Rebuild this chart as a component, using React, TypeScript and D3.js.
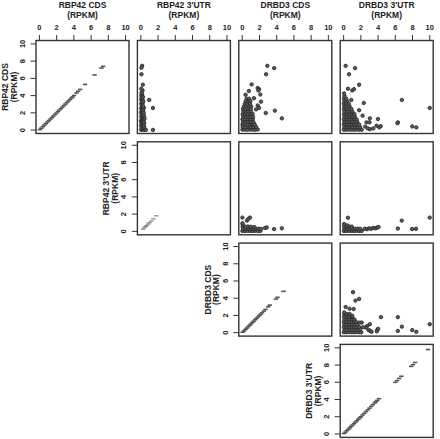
import React from 'react';
import * as d3 from 'd3';

// variable names, in panel order
const labels = ["RBP42 CDS", "RBP42 3'UTR", "DRBD3 CDS", "DRBD3 3'UTR"];
const unitLabel = '(RPKM)';
const tickValues = [0, 2, 4, 6, 8, 10];

// diagonal panels: each variable against itself
const rbpCdsDiag = [0.05, 0.22, 0.4, 0.57, 0.75, 0.93, 1.1, 1.28, 1.45, 1.62, 1.8, 1.98, 2.15, 2.32, 2.5, 2.67, 2.85, 3.02, 3.2, 3.37, 3.55, 3.72, 3.85, 4.02, 4.3, 4.5, 4.72, 5.3, 6.4, 7.2, 7.4];
const rbpUtrDiag = [0.25, 0.4, 0.55, 0.7, 0.85, 1.0, 1.2, 1.45, 1.8];
const drbdCdsDiag = [0.05, 0.2, 0.36, 0.52, 0.68, 0.85, 1.0, 1.17, 1.33, 1.5, 1.66, 1.82, 1.98, 2.14, 2.3, 2.5, 2.7, 3.0, 3.2, 3.9, 4.1, 4.8];
const drbdUtrDiag = [0.05, 0.21, 0.38, 0.55, 0.71, 0.88, 1.04, 1.2, 1.37, 1.53, 1.7, 1.86, 2.0, 2.2, 2.4, 2.6, 2.8, 3.0, 3.2, 3.4, 3.6, 3.75, 3.9, 4.1, 6.0, 6.2, 6.45, 6.7, 7.85, 8.05, 8.3, 9.8];

// off-diagonal panels: [x, y]
// x: RBP42 3'UTR, y: RBP42 CDS
const rbpUtrVsRbpCds = [
  [0.04, 0.04], [0.2, 0.06], [0.36, 0.03], [0.58, 0.02], [1.4, 0.02],
  [0.1, 0.31], [0.27, 0.28], [0.4, 0.35], [0.03, 0.52], [0.19, 0.6], [0.33, 0.55],
  [0.08, 0.83], [0.24, 0.86], [0.38, 0.8], [0.02, 1.06], [0.17, 1.1], [0.31, 1.04],
  [0.1, 1.29], [0.26, 1.33], [0.42, 1.3], [0.05, 1.57], [0.2, 1.6], [0.39, 1.55],
  [0.12, 1.78], [0.3, 1.82], [0.03, 2.04], [0.18, 2.08], [0.33, 2.02], [0.1, 2.33],
  [0.26, 2.3], [0.04, 2.51], [0.2, 2.57], [0.35, 2.55], [0.11, 2.82], [0.27, 2.78],
  [0.05, 3.07], [0.2, 3.1], [0.12, 3.28], [0.28, 3.33], [0.04, 3.56], [0.18, 3.6],
  [0.1, 3.81], [0.24, 3.85], [0.05, 4.02], [0.15, 4.2], [0.08, 4.34], [0.2, 4.6],
  [0.05, 4.8], [0.23, 5.27], [0.15, 7.46], [0.07, 7.23], [0.07, 6.48], [0.97, 3.5], [1.4, 2.57],
];
// x: DRBD3 CDS, y: RBP42 CDS
const drbdCdsVsRbpCds = [
  [0.02, 0.05], [0.3, 0.05], [0.6, 0.04], [0.9, 0.06], [1.2, 0.05], [1.5, 0.04], [1.8, 0.07],
  [0.05, 0.35], [0.35, 0.33], [0.65, 0.36], [0.95, 0.35], [1.25, 0.34], [1.6, 0.37],
  [0.02, 0.65], [0.3, 0.66], [0.6, 0.63], [0.9, 0.65], [1.2, 0.67], [1.45, 0.64],
  [0.08, 0.95], [0.38, 0.94], [0.68, 0.97], [0.98, 0.95], [1.3, 0.93],
  [0.03, 1.25], [0.33, 1.26], [0.63, 1.24], [0.93, 1.25], [1.22, 1.27],
  [0.1, 1.55], [0.4, 1.54], [0.7, 1.56], [1.0, 1.55], [1.25, 1.53],
  [0.05, 1.85], [0.35, 1.86], [0.65, 1.84], [0.95, 1.85], [1.2, 1.87],
  [0.12, 2.15], [0.42, 2.14], [0.72, 2.16], [1.02, 2.15], [1.6, 2.4],
  [0.08, 2.45], [0.38, 2.44], [0.68, 2.46], [0.98, 2.45],
  [0.2, 2.75], [0.5, 2.74], [0.8, 2.76], [1.05, 2.75],
  [0.3, 3.05], [0.6, 3.04], [0.9, 3.06], [0.4, 3.35], [0.7, 3.34], [0.95, 3.36],
  [0.5, 3.65], [0.8, 3.64],
  [2.92, 7.46], [3.71, 7.19], [2.77, 6.48], [1.09, 5.3], [0.77, 4.53], [0.39, 4.1],
  [1.79, 4.88], [1.95, 4.75], [2.1, 4.13], [1.87, 4.6], [2.18, 3.3], [1.36, 3.7],
  [1.8, 2.85], [1.95, 2.57], [2.73, 1.98], [3.79, 2.25], [4.6, 1.36],
];
// x: DRBD3 3'UTR, y: RBP42 CDS
const drbdUtrVsRbpCds = [
  [0.02, 0.05], [0.3, 0.04], [0.6, 0.06], [0.9, 0.05], [1.2, 0.04], [1.5, 0.06], [1.8, 0.05], [2.1, 0.04],
  [0.1, 0.35], [0.4, 0.34], [0.7, 0.36], [1.0, 0.35], [1.3, 0.33], [1.6, 0.36], [1.9, 0.35],
  [0.03, 0.65], [0.33, 0.66], [0.63, 0.64], [0.93, 0.65], [1.23, 0.66], [1.53, 0.64], [1.8, 0.65],
  [0.08, 0.95], [0.38, 0.94], [0.68, 0.96], [0.98, 0.95], [1.28, 0.94], [1.58, 0.96],
  [0.02, 1.25], [0.32, 1.26], [0.62, 1.24], [0.92, 1.25], [1.22, 1.26], [1.5, 1.24],
  [0.1, 1.55], [0.4, 1.54], [0.7, 1.56], [1.0, 1.55], [1.3, 1.54],
  [0.05, 1.85], [0.35, 1.86], [0.65, 1.84], [0.95, 1.85], [1.25, 1.86],
  [0.1, 2.15], [0.4, 2.14], [0.7, 2.16], [1.0, 2.15],
  [0.03, 2.45], [0.33, 2.44], [0.63, 2.46], [0.9, 2.45],
  [0.08, 2.75], [0.38, 2.74], [0.68, 2.76], [0.02, 3.05], [0.3, 3.04], [0.6, 3.06],
  [0.1, 3.35], [0.4, 3.34], [0.05, 3.65], [0.3, 3.64], [0.1, 3.95], [0.05, 4.25],
  [0.23, 7.46], [1.33, 7.19], [0.62, 6.48], [1.8, 5.27], [1.0, 4.6], [1.2, 4.75], [0.5, 4.8],
  [0.89, 3.5], [2.34, 3.15], [1.8, 2.3], [2.2, 1.67], [6.76, 3.5], [10.0, 2.57],
  [3.98, 1.28], [3.04, 1.36], [2.65, 0.89], [3.0, 0.9], [6.3, 0.89], [6.25, 0.8],
  [3.83, 0.5], [4.14, 0.31], [3.44, 0.19], [3.05, 0.1], [4.3, 0.45], [7.97, 0.42],
  [8.44, 0.31], [2.5, 0.4], [2.8, 0.2],
];
// x: DRBD3 CDS, y: RBP42 3'UTR
const drbdCdsVsRbpUtr = [
  [0.02, 0.05], [0.3, 0.04], [0.6, 0.06], [0.9, 0.05], [1.2, 0.04], [1.5, 0.06], [1.8, 0.05], [2.1, 0.04],
  [0.1, 0.3], [0.4, 0.29], [0.7, 0.31], [1.0, 0.3], [1.3, 0.29], [1.6, 0.31], [1.9, 0.3], [2.2, 0.28],
  [0.05, 0.55], [0.35, 0.54], [0.65, 0.56], [1.0, 0.53], [1.4, 0.5], [0.05, 0.8],
  [0.02, 1.6], [0.55, 1.25], [0.9, 1.6], [0.7, 1.45], [0.03, 0.95],
  [2.65, 0.4], [2.85, 0.45], [3.7, 0.27], [4.6, 0.35],
];
// x: DRBD3 3'UTR, y: RBP42 3'UTR
const drbdUtrVsRbpUtr = [
  [0.02, 0.05], [0.3, 0.04], [0.6, 0.06], [0.9, 0.05], [1.2, 0.04], [1.5, 0.06], [1.8, 0.05], [2.1, 0.04],
  [0.1, 0.3], [0.4, 0.29], [0.7, 0.31], [1.0, 0.3], [1.3, 0.29], [1.6, 0.31], [1.9, 0.3],
  [0.05, 0.55], [0.35, 0.54], [0.65, 0.56], [0.95, 0.55], [0.05, 0.85], [0.4, 0.7],
  [2.45, 0.3], [2.7, 0.25], [2.95, 0.35], [3.2, 0.3], [3.45, 0.4], [3.7, 0.35], [3.9, 0.45], [4.05, 0.5],
  [0.5, 1.58], [6.75, 1.25], [6.3, 0.33], [7.95, 0.27], [8.4, 0.3], [10.0, 1.6],
];
// x: DRBD3 3'UTR, y: DRBD3 CDS
const drbdUtrVsDrbdCds = [
  [0.02, 0.05], [0.3, 0.04], [0.6, 0.06], [0.9, 0.05], [1.2, 0.04], [1.5, 0.06], [1.8, 0.05], [2.05, 0.04],
  [0.1, 0.35], [0.4, 0.34], [0.7, 0.36], [1.0, 0.35], [1.3, 0.33], [1.6, 0.36], [1.9, 0.35],
  [0.03, 0.65], [0.33, 0.66], [0.63, 0.64], [0.93, 0.65], [1.23, 0.66], [1.53, 0.64], [1.8, 0.65],
  [0.08, 0.95], [0.38, 0.94], [0.68, 0.96], [0.98, 0.95], [1.28, 0.94], [1.55, 0.96],
  [0.02, 1.25], [0.32, 1.26], [0.62, 1.24], [0.92, 1.25], [1.2, 1.26], [1.45, 1.24],
  [0.1, 1.55], [0.4, 1.54], [0.7, 1.56], [1.0, 1.55], [1.25, 1.54],
  [0.05, 1.85], [0.35, 1.86], [0.65, 1.84], [0.95, 1.85], [0.1, 2.15], [0.4, 2.14], [0.7, 2.16],
  [1.09, 4.7], [1.37, 3.72], [1.8, 3.92], [0.23, 2.98], [0.69, 2.78], [1.16, 2.74], [0.07, 2.35],
  [1.0, 1.96], [1.85, 1.17], [2.1, 1.17], [4.33, 1.8], [6.29, 1.8], [6.76, 0.7], [10.0, 0.98],
  [3.04, 0.98], [2.73, 0.78], [2.6, 0.6], [2.9, 0.3], [3.1, 0.2], [3.24, 0.1], [3.9, 0.3],
  [4.0, 0.45], [3.85, 0.15], [6.29, 0.2], [7.97, 0.3], [8.44, 0.1], [2.26, 0.63],
];

const diagSeries = [rbpCdsDiag, rbpUtrDiag, drbdCdsDiag, drbdUtrDiag];
const offPanels = [
  { row: 0, col: 1, points: rbpUtrVsRbpCds },
  { row: 0, col: 2, points: drbdCdsVsRbpCds },
  { row: 0, col: 3, points: drbdUtrVsRbpCds },
  { row: 1, col: 2, points: drbdCdsVsRbpUtr },
  { row: 1, col: 3, points: drbdUtrVsRbpUtr },
  { row: 2, col: 3, points: drbdUtrVsDrbdCds },
];

const W = 440;
const H = 439;
const size = 93;
const left0 = 36;
const top0 = 40.5;
const stepX = 101.4;
const stepY = 101.3;
const font = '"Liberation Sans", Arial, Helvetica, sans-serif';
const ink = '#222';

const x = d3.scaleLinear().domain([-0.4, 10.4]).range([0, size]);
const y = d3.scaleLinear().domain([-0.4, 10.4]).range([size, 0]);

const TopAxis = ({ label }: { label: string }) => (
  <g>
    {tickValues.map(t => (
      <g key={t}>
        <line x1={x(t)} x2={x(t)} y1={0} y2={-5.5} stroke="#333" strokeWidth={1} />
        <text x={x(t)} y={-10.5} textAnchor="middle" fontSize={7.5} fontWeight="bold" fill={ink}>{t}</text>
      </g>
    ))}
    <text x={size / 2} y={-23} textAnchor="middle" fontSize={8.5} fontWeight="bold" fill={ink}>{unitLabel}</text>
    <text x={size / 2} y={-32.5} textAnchor="middle" fontSize={8.5} fontWeight="bold" fill={ink}>{label}</text>
  </g>
);

const LeftAxis = ({ label }: { label: string }) => (
  <g>
    {tickValues.map(t => (
      <g key={t}>
        <line x1={0} x2={-5.5} y1={y(t)} y2={y(t)} stroke="#333" strokeWidth={1} />
        <text transform={`translate(-11,${y(t)}) rotate(-90)`} textAnchor="middle" fontSize={7.5} fontWeight="bold" fill={ink}>{t}</text>
      </g>
    ))}
    <text transform={`translate(-19.5,${size / 2}) rotate(-90)`} textAnchor="middle" fontSize={8.5} fontWeight="bold" fill={ink}>{unitLabel}</text>
    <text transform={`translate(-28.3,${size / 2}) rotate(-90)`} textAnchor="middle" fontSize={8.5} fontWeight="bold" fill={ink}>{label}</text>
  </g>
);

const Frame = () => (
  <rect x={0} y={0} width={size} height={size} fill="none" stroke="#333" strokeWidth={1.4} />
);

export default function App() {
  return (
    <svg width={W} height={H} style={{ position: 'absolute', left: 0, top: 0, background: '#fff' }} fontFamily={font}>
      {diagSeries.map((vals, i) => (
        <g key={`d${i}`} transform={`translate(${left0 + i * stepX},${top0 + i * stepY})`}>
          {vals.map((v, j) => (
            <line key={j} x1={x(v) - 2.2} x2={x(v) + 2.2} y1={y(v)} y2={y(v)}
              stroke={i === 1 ? '#777' : '#555'} strokeWidth={i === 1 ? 1.1 : 1.6} />
          ))}
          <Frame />
          <LeftAxis label={labels[i]} />
          {i === 0 && <TopAxis label={labels[0]} />}
        </g>
      ))}
      {offPanels.map(p => (
        <g key={`p${p.row}${p.col}`} transform={`translate(${left0 + p.col * stepX},${top0 + p.row * stepY})`}>
          {p.points.map((d, j) => (
            <circle key={j} cx={x(d[0])} cy={y(d[1])} r={1.7} fill="#5c5c5c" stroke="#2a2a2a" strokeWidth={0.9} />
          ))}
          <Frame />
          {p.row === 0 && <TopAxis label={labels[p.col]} />}
        </g>
      ))}
    </svg>
  );
}
